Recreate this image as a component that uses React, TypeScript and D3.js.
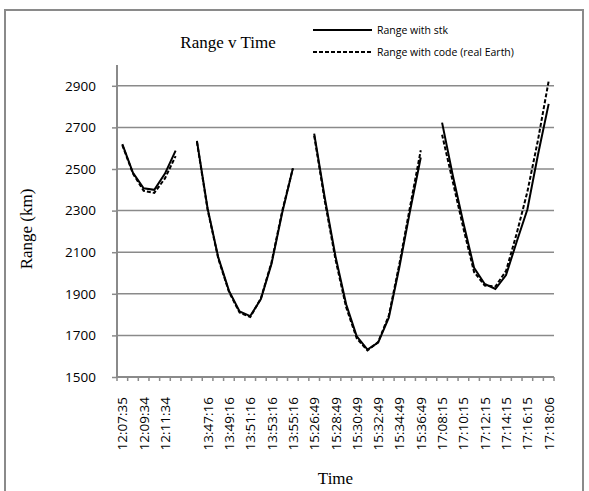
import React, { useRef, useEffect } from 'react';
import * as d3 from 'd3';

// category labels (blank rows separate the passes)
const times: string[] = [
  '12:07:35', '12:08:35', '12:09:34', '12:10:34', '12:11:34', '12:12:34',
  '',
  '13:46:16', '13:47:16', '13:48:16', '13:49:16', '13:50:16', '13:51:16', '13:52:16', '13:53:16', '13:54:16', '13:55:16',
  '',
  '15:26:49', '15:27:49', '15:28:49', '15:29:49', '15:30:49', '15:31:49', '15:32:49', '15:33:49', '15:34:49', '15:35:49', '15:36:49',
  '',
  '17:08:15', '17:09:15', '17:10:15', '17:11:15', '17:12:15', '17:13:15', '17:14:15', '17:15:15', '17:16:15', '17:17:15', '17:18:06',
];

const rangeStk: (number | null)[] = [
  2620, 2482, 2407, 2400, 2478, 2588,
  null,
  2635, 2310, 2075, 1915, 1815, 1793, 1875, 2045, 2290, 2503,
  null,
  2670, 2360, 2080, 1850, 1695, 1632, 1665, 1785, 2030, 2300, 2555,
  null,
  2723, 2470, 2240, 2025, 1947, 1923, 1990, 2150, 2305, 2570, 2813,
];

const rangeCode: (number | null)[] = [
  2615, 2478, 2395, 2385, 2455, 2562,
  null,
  2630, 2305, 2070, 1910, 1810, 1788, 1878, 2052, 2298, 2503,
  null,
  2660, 2345, 2065, 1835, 1685, 1628, 1668, 1795, 2045, 2320, 2590,
  null,
  2665, 2440, 2215, 2005, 1940, 1935, 2010, 2190, 2390, 2640, 2923,
];

const yTicks = [1500, 1700, 1900, 2100, 2300, 2500, 2700, 2900];

const Chart = () => {
  const ref = useRef<SVGSVGElement>(null);

  useEffect(() => {
    const svg = d3.select(ref.current)
      .attr('width', 589)
      .attr('height', 491);

    svg.selectAll('*').remove();

    const left = 117, right = 554, top = 65, bottom = 377;
    const sans = '"Open Sans", "DejaVu Sans", sans-serif';
    const serif = '"Liberation Serif", "Times New Roman", serif';
    const gray = '#8a8a8a';

    // outer frame
    svg.append('rect')
      .attr('x', 5).attr('y', 10)
      .attr('width', 578).attr('height', 495)
      .attr('fill', 'white')
      .attr('stroke', gray)
      .attr('stroke-width', 2);

    const x = d3.scaleBand<number>()
      .domain(d3.range(times.length))
      .range([left, right]);

    const y = d3.scaleLinear()
      .domain([1500, 3000])
      .range([bottom, top]);

    // gridlines
    svg.append('g')
      .selectAll('line')
      .data(yTicks.filter(d => d > 1500))
      .enter().append('line')
      .attr('x1', left).attr('x2', right)
      .attr('y1', d => y(d)).attr('y2', d => y(d))
      .attr('stroke', gray)
      .attr('stroke-width', 1.5);

    // y axis
    const yAxis = svg.append('g')
      .attr('transform', `translate(${left},0)`)
      .call(d3.axisLeft(y).tickValues(yTicks).tickSize(5).tickPadding(16).tickFormat(d3.format('d')));
    yAxis.select('.domain').remove();
    yAxis.selectAll('line').attr('stroke', gray).attr('stroke-width', 1.5);
    yAxis.selectAll('text')
      .attr('font-family', sans)
      .attr('font-size', 13.5)
      .attr('fill', '#000');
    svg.append('line')
      .attr('x1', left).attr('x2', left)
      .attr('y1', top).attr('y2', bottom)
      .attr('stroke', gray).attr('stroke-width', 2);

    // x axis
    const xg = svg.append('g');
    xg.append('line')
      .attr('x1', left).attr('x2', right)
      .attr('y1', bottom).attr('y2', bottom)
      .attr('stroke', gray).attr('stroke-width', 2);
    xg.selectAll('.tick')
      .data(d3.range(times.length + 1))
      .enter().append('line')
      .attr('x1', i => left + i * x.step())
      .attr('x2', i => left + i * x.step())
      .attr('y1', bottom).attr('y2', bottom + 4)
      .attr('stroke', gray).attr('stroke-width', 1.5);
    xg.selectAll('.lbl')
      .data(times.map((t, i) => ({ t, i })).filter(d => d.i % 2 === 0 && d.t !== ''))
      .enter().append('text')
      .attr('transform', d => `translate(${(x(d.i) as number) + x.bandwidth() / 2 + 5},${bottom + 20}) rotate(-90)`)
      .attr('text-anchor', 'end')
      .attr('font-family', sans)
      .attr('font-size', 13.5)
      .text(d => d.t);

    // series
    const line = d3.line<number | null>()
      .defined(d => d !== null)
      .x((_, i) => (x(i) as number) + x.bandwidth() / 2)
      .y(d => y(d as number));

    svg.append('path')
      .datum(rangeCode)
      .attr('fill', 'none')
      .attr('stroke', '#000')
      .attr('stroke-width', 2)
      .attr('stroke-dasharray', '4,2')
      .attr('d', line);

    svg.append('path')
      .datum(rangeStk)
      .attr('fill', 'none')
      .attr('stroke', '#000')
      .attr('stroke-width', 2)
      .attr('d', line);

    // titles
    svg.append('text')
      .attr('x', 228).attr('y', 48)
      .attr('text-anchor', 'middle')
      .attr('font-family', serif)
      .attr('font-size', 17)
      .text('Range v Time');

    svg.append('text')
      .attr('x', (left + right) / 2).attr('y', 484)
      .attr('text-anchor', 'middle')
      .attr('font-family', serif)
      .attr('font-size', 17)
      .text('Time');

    svg.append('text')
      .attr('transform', `translate(32,${(top + bottom) / 2 + 8}) rotate(-90)`)
      .attr('text-anchor', 'middle')
      .attr('font-family', serif)
      .attr('font-size', 17)
      .text('Range (km)');

    // legend
    const legend = [
      { name: 'Range with stk', dash: null, y: 30 },
      { name: 'Range with code (real Earth)', dash: '4,2', y: 52 },
    ];
    const lg = svg.append('g');
    legend.forEach(l => {
      lg.append('line')
        .attr('x1', 313).attr('x2', 372)
        .attr('y1', l.y).attr('y2', l.y)
        .attr('stroke', '#000')
        .attr('stroke-width', 2)
        .attr('stroke-dasharray', l.dash);
      lg.append('text')
        .attr('x', 377).attr('y', l.y + 4)
        .attr('font-family', sans)
        .attr('font-size', 10.5)
        .text(l.name);
    });
  }, []);

  return (
    <svg ref={ref} style={{ position: 'absolute', left: 0, top: 0 }}></svg>
  );
};

export default function App() {
  return <Chart />;
}
